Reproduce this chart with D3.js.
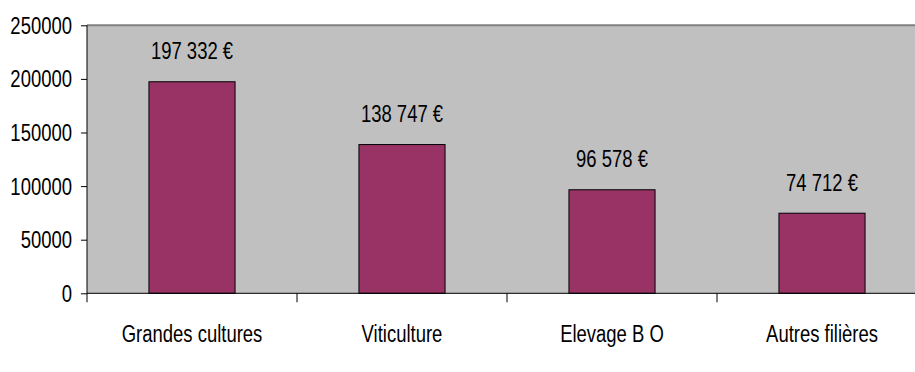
<!DOCTYPE html>
<html>
<head>
<meta charset="utf-8">
<script src="https://cdn.jsdelivr.net/npm/d3@7"></script>
<style>
  html, body { margin: 0; padding: 0; background: #ffffff; }
  svg text { font-family: "Liberation Sans", Arial, sans-serif; fill: #000; }
</style>
</head>
<body>
<svg id="chart" width="915" height="372"></svg>
<script>
// Chiffre d'affaires moyen par filière
const categories = ["Grandes cultures", "Viticulture", "Elevage B O", "Autres filières"];
const values = [197332, 138747, 96578, 74712];
const yTicks = [0, 50000, 100000, 150000, 200000, 250000];

const fmt = v => d3.format(",")(v).replace(/,/g, " ") + " €";
const FS = 24;        // font size
const SX = 0.77;      // horizontal condensing of the narrow typeface

const svg = d3.select("#chart");
const margin = { left: 87, top: 25.3, right: -12, bottom: 78.7 };
const W = 915, H = 372;
const x0 = margin.left, x1 = W - margin.right;
const yTop = margin.top, yBot = H - margin.bottom;

const x = d3.scaleBand().domain(categories).range([x0, x1]).paddingInner(0.59).paddingOuter(0.295);
const xb = d3.scaleBand().domain(categories).range([x0, x1]);
const y = d3.scaleLinear().domain([0, 250000]).range([yBot, yTop]);

// condensed text helper
function label(g, px, py, anchor, txt) {
  return g.append("text")
    .attr("transform", `translate(${px},${py}) scale(${SX},1)`)
    .attr("text-anchor", anchor).attr("font-size", FS)
    .text(txt);
}

// plot background
svg.append("rect").attr("x", x0).attr("y", yTop).attr("width", x1 - x0).attr("height", yBot - yTop)
  .attr("fill", "#c0c0c0");
svg.append("line").attr("x1", x0).attr("x2", x1).attr("y1", yTop).attr("y2", yTop)
  .attr("stroke", "#808080").attr("stroke-width", 2);

// bars
svg.selectAll("rect.bar").data(values).join("rect").attr("class", "bar")
  .attr("x", (d, i) => x(categories[i]))
  .attr("width", x.bandwidth())
  .attr("y", d => y(d))
  .attr("height", d => yBot - y(d))
  .attr("fill", "#993366").attr("stroke", "#000").attr("stroke-width", 1);

// value labels
const gv = svg.append("g");
values.forEach((d, i) => label(gv, xb(categories[i]) + xb.bandwidth() / 2, y(d) - 22.5, "middle", fmt(d)));

// y axis
const yAxis = d3.axisLeft(y).tickValues(yTicks).tickSize(6).tickFormat(() => "");
const gy = svg.append("g").attr("transform", `translate(${x0},0)`).call(yAxis);
gy.select(".domain").attr("stroke", "#000").attr("d", `M0,${yTop}V${yBot}`);
gy.selectAll("line").attr("stroke", "#000");
yTicks.forEach(t => label(svg, 72, y(t) + 8.5, "end", String(t)));

// x axis
const gx = svg.append("g").attr("transform", `translate(0,${yBot})`);
gx.append("line").attr("x1", x0).attr("x2", x1).attr("y1", 0).attr("y2", 0).attr("stroke", "#000");
const bounds = categories.map(c => xb(c));
gx.selectAll("line.tk").data(bounds).join("line").attr("class", "tk")
  .attr("x1", d => d).attr("x2", d => d).attr("y1", 0).attr("y2", 9).attr("stroke", "#000");
categories.forEach(c => label(gx, xb(c) + xb.bandwidth() / 2, 48.5, "middle", c));
</script>
</body>
</html>
